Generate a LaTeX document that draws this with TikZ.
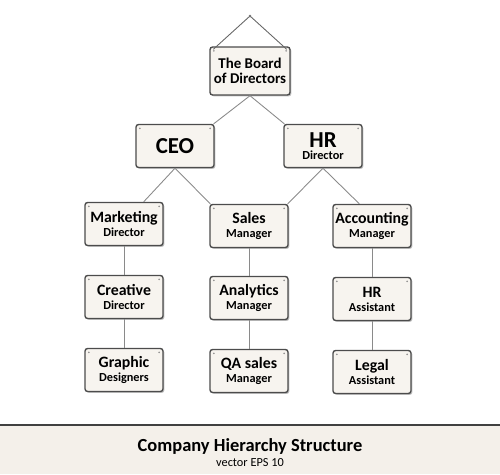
\documentclass[tikz,border=0pt]{standalone}
\usepackage{fontspec}
\setmainfont{Carlito}
\usetikzlibrary{positioning,calc,shadows}
\definecolor{signbg}{HTML}{F7F4EF}
\definecolor{bandbg}{HTML}{F4F0EA}
\definecolor{wire}{HTML}{8A8A8A}

\tikzset{
  sign/.style={draw=black!70, line width=0.8pt, fill=signbg, rounded corners=1.5pt,
    minimum width=1.56cm, minimum height=0.86cm, align=center, inner sep=1pt,
    font=\bfseries\fontsize{9}{9}\selectfont,
    drop shadow={shadow xshift=0.8pt, shadow yshift=-0.8pt, opacity=0.35, fill=black!70},
    path picture={
      \fill[black!45] ([xshift=2.2pt,yshift=-2.2pt]path picture bounding box.north west) circle (0.55pt);
      \fill[black!45] ([xshift=-2.2pt,yshift=-2.2pt]path picture bounding box.north east) circle (0.55pt);
    }},
  bigsign/.style={sign, font=\bfseries\fontsize{13}{8}\selectfont},
  wire/.style={draw=wire, line width=0.5pt}
}
\newcommand{\signtext}[2]{#1\\[-1pt]{\bfseries\fontsize{7}{7}\selectfont #2}}

\begin{document}
\begin{tikzpicture}[x=0.02cm,y=-0.02cm]
    \useasboundingbox (0,0) rectangle (500,474);

    % bottom band with title
    \fill[bandbg] (0,425) rectangle (500,474);
    \draw[black!75, line width=0.7pt] (0,425) -- (500,425);
    \node (title) at (250,446) {\bfseries\fontsize{10.5}{10.5}\selectfont Company Hierarchy Structure};
    \node[font=\fontsize{7}{7}\selectfont, below=-4.5pt of title] (subtitle) {vector EPS 10};

    % the signs
    \node[sign, minimum width=1.6cm, minimum height=0.96cm, font=\bfseries\fontsize{8.5}{9.5}\selectfont] (board) at (250,71) {The Board\\[-1pt]of Directors};
    \node[bigsign] (ceo) at (175,146) {CEO};
    \node[bigsign] (hr) at (323,146) {\signtext{HR}{Director}};

    \node[sign] (mkt) at (124,224) {\signtext{Marketing}{Director}};
    \node[sign] (sales) at (249,226) {\signtext{Sales}{Manager}};
    \node[sign] (acct) at (372,226) {\signtext{Accounting}{Manager}};

    \node[sign] (crea) at (124,297) {\signtext{Creative}{Director}};
    \node[sign] (anal) at (249,298) {\signtext{Analytics}{Manager}};
    \node[sign] (hrass) at (372,299) {\signtext{HR}{Assistant}};

    \node[sign] (graph) at (124,370) {\signtext{Graphic}{Designers}};
    \node[sign] (qa) at (249,371) {\signtext{QA sales}{Manager}};
    \node[sign] (legal) at (372,372) {\signtext{Legal}{Assistant}};

    % hanger
    \coordinate (nail) at (250,16);
    \draw[wire, black!60] ($(board.north west)+(4,3)$) -- (nail) -- ($(board.north east)+(-4,3)$);
    \fill[black!55] (nail) circle (0.8pt);

    % strings between levels
    \draw[wire] ($(ceo.north east)+(-1,0)$) -- (board.south) -- ($(hr.north west)+(1,0)$);
    \draw[wire] ($(mkt.north east)+(-20,0)$) -- (ceo.south) -- ($(sales.north west)+(1,0)$);
    \draw[wire] ($(sales.north east)+(-1,0)$) -- (hr.south) -- ($(acct.north west)+(27,0)$);

    \draw[wire] (mkt) -- (crea) -- (graph);
    \draw[wire] (sales) -- (anal) -- (qa);
    \draw[wire] (acct) -- (hrass) -- (legal);

\end{tikzpicture}
\end{document}
